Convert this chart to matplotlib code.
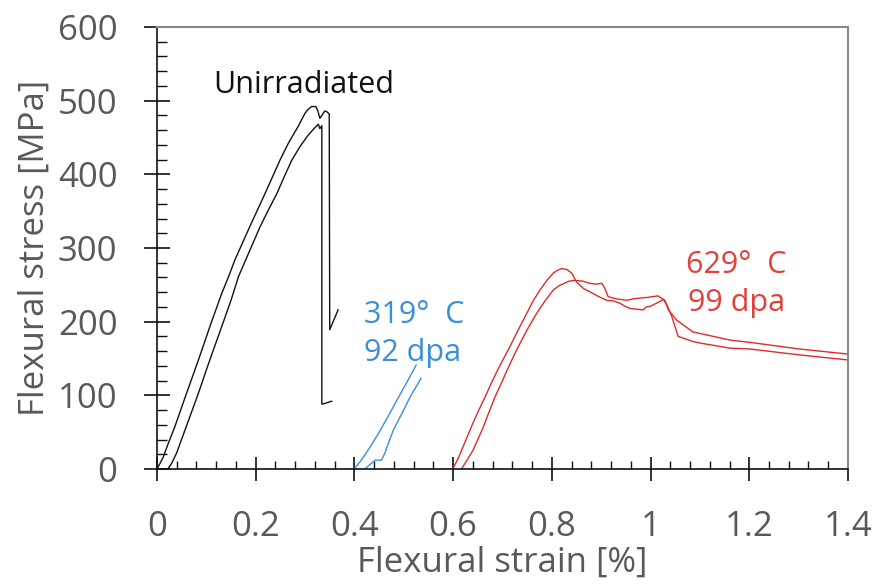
import matplotlib as mpl
import matplotlib.pyplot as plt
from matplotlib.ticker import MultipleLocator

mpl.rcParams.update({
    'font.family': ['Open Sans', 'DejaVu Sans'],
    'axes.linewidth': 1.2,
})

# --- flexural stress-strain curves (strain %, stress MPa) -------------------
# unirradiated, two specimens
unirr_a_x = [0, 0.012, 0.023, 0.036, 0.060, 0.084, 0.107, 0.131, 0.145, 0.158,
             0.188, 0.219, 0.249, 0.266, 0.286, 0.300, 0.306, 0.313, 0.322,
             0.326, 0.330, 0.334, 0.340, 0.344, 0.349, 0.350, 0.367]
unirr_a_y = [0, 15, 35, 57, 103, 148, 193, 238, 261, 284,
             329, 374, 419, 442, 465, 483, 488, 492, 492,
             486, 476, 480, 486, 485, 482, 189, 216]
unirr_b_x = [0.022, 0.030, 0.040, 0.047, 0.065, 0.084, 0.107, 0.131, 0.150,
             0.165, 0.187, 0.209, 0.226, 0.243, 0.258, 0.273, 0.290, 0.305,
             0.318, 0.324, 0.327, 0.330, 0.334, 0.334, 0.340, 0.354]
unirr_b_y = [0, 8, 22, 35, 68, 103, 148, 193, 229,
             261, 295, 329, 352, 374, 397, 419, 438, 452,
             462, 466, 468, 462, 466, 88, 89, 92]

# 319 C / 92 dpa
irr319_a_x = [0.399, 0.407, 0.415, 0.432, 0.452, 0.472, 0.490, 0.509, 0.525]
irr319_a_y = [0, 6, 13, 30, 52, 76, 98, 121, 141]
irr319_b_x = [0.421, 0.428, 0.435, 0.442, 0.455, 0.462, 0.470, 0.479, 0.496,
              0.513, 0.535]
irr319_b_y = [0, 4, 8, 12, 12, 22, 37, 53, 75, 98, 123]

# 629 C / 99 dpa
irr629_a_x = [0.599, 0.610, 0.620, 0.630, 0.640, 0.652, 0.665, 0.677, 0.690,
              0.703, 0.715, 0.732, 0.749, 0.762, 0.776, 0.790, 0.803, 0.812,
              0.820, 0.830, 0.840, 0.850, 0.864, 0.884, 0.895, 0.911, 0.925,
              0.938, 0.948, 0.958, 0.970, 0.985, 0.992, 1.000, 1.012, 1.026,
              1.033, 1.043, 1.056, 1.086, 1.100, 1.161, 1.200, 1.300, 1.400]
irr629_a_y = [0, 14, 30, 46, 62, 80, 98, 116, 134,
              151, 166, 189, 211, 228, 243, 256, 266, 270,
              272, 271, 266, 254, 245, 238, 234, 229, 228,
              225, 221, 218, 217, 216, 220, 221, 225, 230,
              223, 207, 180, 173, 171, 164, 163, 155, 148]
irr629_b_x = [0.617, 0.628, 0.640, 0.650, 0.660, 0.672, 0.685, 0.698, 0.710,
              0.721, 0.732, 0.750, 0.769, 0.786, 0.803, 0.815, 0.825, 0.835,
              0.845, 0.863, 0.877, 0.890, 0.901, 0.907, 0.914, 0.930, 0.952,
              0.965, 0.978, 0.995, 1.015, 1.029, 1.036, 1.053, 1.086, 1.100,
              1.161, 1.200, 1.300, 1.400]
irr629_b_y = [0, 12, 25, 40, 55, 76, 98, 117, 135,
              151, 166, 189, 211, 228, 243, 249, 252, 255,
              256, 255, 252, 251, 252, 246, 234, 231, 229,
              231, 232, 233, 235, 229, 216, 202, 186, 184,
              175, 172, 163, 156]

BLACK = '#111111'
BLUE = '#3a8fd8'
RED = '#e02a2a'
RED_TEXT = '#e4403a'
TICK_GREY = '#595959'
FRAME_GREY = '#8a8a8a'

fig = plt.figure(figsize=(8.78, 5.88), dpi=100)
ax = fig.add_axes([0.1788, 0.2024, 0.7870, 0.7517])

lw = 1.0
ax.plot(unirr_a_x, unirr_a_y, color=BLACK, lw=lw)
ax.plot(unirr_b_x, unirr_b_y, color=BLACK, lw=lw)
ax.plot(irr319_a_x, irr319_a_y, color=BLUE, lw=lw)
ax.plot(irr319_b_x, irr319_b_y, color=BLUE, lw=lw)
ax.plot(irr629_a_x, irr629_a_y, color=RED, lw=lw)
ax.plot(irr629_b_x, irr629_b_y, color=RED, lw=lw)

ax.set_xlim(0, 1.4)
ax.set_ylim(0, 600)
ax.set_xticks([0, 0.2, 0.4, 0.6, 0.8, 1.0, 1.2, 1.4])
ax.set_xticklabels(['0', '0.2', '0.4', '0.6', '0.8', '1', '1.2', '1.4'])
ax.xaxis.set_minor_locator(MultipleLocator(0.04))
ax.yaxis.set_major_locator(MultipleLocator(100))
ax.yaxis.set_minor_locator(MultipleLocator(20))

ax.tick_params(which='major', direction='inout', width=1.2, color=BLACK,
               labelsize=25, labelcolor=TICK_GREY)
ax.tick_params(axis='x', which='major', length=17, pad=21)
ax.tick_params(axis='y', which='major', length=19, pad=19)
ax.tick_params(which='minor', direction='in', width=1.0, color=BLACK)
ax.tick_params(axis='x', which='minor', length=6)
ax.tick_params(axis='y', which='minor', length=7)

for s in ('top', 'right'):
    ax.spines[s].set_color(FRAME_GREY)
    ax.spines[s].set_linewidth(1.5)
for s in ('left', 'bottom'):
    ax.spines[s].set_color(BLACK)

ax.set_xlabel('Flexural strain [%]', fontsize=25, color=TICK_GREY)
ax.set_ylabel('Flexural stress [MPa]', fontsize=25, color=TICK_GREY)
ax.xaxis.set_label_coords(0.5, -0.174)
ax.yaxis.set_label_coords(-0.153, 0.5)

ax.text(0.1135, 510, 'Unirradiated', color=BLACK, fontsize=22,
        ha='left', va='baseline')
ax.text(0.521, 198, '319°  C', color=BLUE, fontsize=22,
        ha='center', va='baseline')
ax.text(0.518, 146, '92 dpa', color=BLUE, fontsize=22,
        ha='center', va='baseline')
ax.text(1.174, 266, '629°  C', color=RED_TEXT, fontsize=22,
        ha='center', va='baseline')
ax.text(1.174, 214, '99 dpa', color=RED_TEXT, fontsize=22,
        ha='center', va='baseline')

fig.savefig('out.png', dpi=100)
